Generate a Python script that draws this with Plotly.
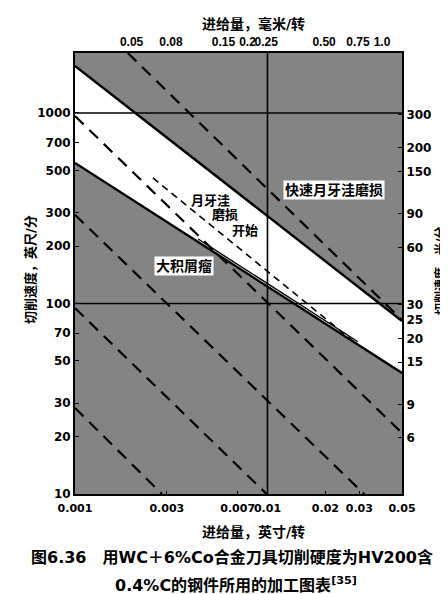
import math
import plotly.graph_objects as go

# ---------------- data ----------------
# bottom axis: feed, in/rev ; left axis: cutting speed, ft/min
x_ticks_in = [0.001, 0.003, 0.007, 0.01, 0.02, 0.03, 0.05]
x_ticklabels_in = ["0.001", "0.003", "0.007", "0.01", "0.02", "0.03", "0.05"]
x_ticks_mm = [0.05, 0.08, 0.15, 0.2, 0.25, 0.5, 0.75, 1.0]
x_ticklabels_mm = ["0.05", "0.08", "0.15", "0.2", "0.25", "0.50", "0.75", "1.0"]
y_ticks_fpm = [10, 20, 30, 50, 70, 100, 200, 300, 500, 700, 1000]
y_ticks_mpm = [3, 6, 9, 15, 20, 25, 30, 60, 90, 150, 200, 300]

feed_min, feed_max = 0.001, 0.05
speed_min, speed_max = 10, 2065

# boundaries of the safe (white) working band
upper_bound_feed = [0.001, 0.05]
upper_bound_speed = [1767, 80.9]
lower_bound_feed = [0.001, 0.05]
lower_bound_speed = [547, 43.2]
# thin companion line along the lower boundary
edge_line_feed = [0.00436, 0.0295]
edge_line_speed = [218, 63.0]
# "crater wear start" short-dash line
crater_feed = [0.00254, 0.0295]
crater_speed = [456, 60.5]

# constant-removal-rate dashed lines (feed, speed pairs)
rate_lines = {
    "L1": ([0.00188, 0.05], [2065, 82]),
    "L2": ([0.001, 0.05], [964, 20.9]),
    "L3": ([0.001, 0.0318], [292, 10]),
    "L4": ([0.001, 0.0099], [94.6, 10]),
    "L5": ([0.001, 0.00283], [28.3, 10]),
}

# ----------------------------------------------------------------
GRAY = "#848484"
fig = go.Figure()

# upper shaded region
fig.add_trace(go.Scatter(
    x=[upper_bound_feed[0], upper_bound_feed[1], feed_max, feed_min],
    y=[upper_bound_speed[0], upper_bound_speed[1], speed_max * 1.2, speed_max * 1.2],
    fill="toself", fillcolor=GRAY, line=dict(width=0), mode="lines",
    hoverinfo="skip", showlegend=False))
# lower shaded region
fig.add_trace(go.Scatter(
    x=[lower_bound_feed[0], lower_bound_feed[1], feed_max, feed_min],
    y=[lower_bound_speed[0], lower_bound_speed[1], speed_min * 0.8, speed_min * 0.8],
    fill="toself", fillcolor=GRAY, line=dict(width=0), mode="lines",
    hoverinfo="skip", showlegend=False))

# reference grid lines (1000, 100 ft/min, 0.01 in/rev)
for yv in [1000, 100]:
    fig.add_trace(go.Scatter(x=[feed_min, feed_max], y=[yv, yv], mode="lines",
                             line=dict(color="black", width=1.6),
                             hoverinfo="skip", showlegend=False))
fig.add_trace(go.Scatter(x=[0.01, 0.01], y=[speed_min, speed_max], mode="lines",
                         line=dict(color="black", width=1.6),
                         hoverinfo="skip", showlegend=False))

# dashed rate lines
for name, (fx, vy) in rate_lines.items():
    fig.add_trace(go.Scatter(x=fx, y=vy, mode="lines",
                             line=dict(color="black", width=2.2, dash="12px,8px"),
                             hoverinfo="skip", showlegend=False))

# crater-start short dashes
fig.add_trace(go.Scatter(x=crater_feed, y=crater_speed, mode="lines",
                         line=dict(color="black", width=1.6, dash="7px,5px"),
                         hoverinfo="skip", showlegend=False))

# band boundaries
fig.add_trace(go.Scatter(x=upper_bound_feed, y=upper_bound_speed, mode="lines",
                         line=dict(color="black", width=2.4),
                         hoverinfo="skip", showlegend=False))
fig.add_trace(go.Scatter(x=lower_bound_feed, y=lower_bound_speed, mode="lines",
                         line=dict(color="black", width=2.4),
                         hoverinfo="skip", showlegend=False))
fig.add_trace(go.Scatter(x=edge_line_feed, y=edge_line_speed, mode="lines",
                         line=dict(color="black", width=1.4),
                         hoverinfo="skip", showlegend=False))

# dummy trace to activate the secondary (metric) axes
fig.add_trace(go.Scatter(x=[0.1], y=[30], xaxis="x2", yaxis="y2", mode="markers",
                         marker=dict(opacity=0), hoverinfo="skip", showlegend=False))

YTICKFONT = dict(family="DejaVu Sans", size=12, color="black", weight="bold")
XTICKFONT = dict(family="DejaVu Sans", size=11, color="black", weight="bold")
TOPTICKFONT = dict(family="Liberation Sans", size=12, color="black", weight="bold")
CJK = "DejaVu Sans, Noto Sans CJK SC"

fig.update_layout(
    width=448, height=594,
    margin=dict(l=67, r=54, t=45, b=108),
    paper_bgcolor="white", plot_bgcolor="white",
    xaxis=dict(type="log", range=[math.log10(feed_min), math.log10(feed_max)],
               tickvals=x_ticks_in, ticktext=x_ticklabels_in, tickfont=XTICKFONT,
               tickangle=0, showgrid=False, zeroline=False, showline=True,
               linecolor="black", linewidth=2, ticks="inside", ticklen=3,
               tickcolor="black", mirror=False, anchor="y", ticklabelstandoff=3),
    yaxis=dict(type="log", range=[math.log10(speed_min), math.log10(speed_max)],
               tickvals=y_ticks_fpm, ticktext=[str(v) for v in y_ticks_fpm],
               tickfont=YTICKFONT, tickangle=0, showgrid=False, zeroline=False,
               showline=True, linecolor="black", linewidth=2, ticks="inside",
               ticklen=4, tickcolor="black", anchor="x"),
    xaxis2=dict(type="log", overlaying="x", side="top", anchor="y",
                range=[math.log10(feed_min * 25.4), math.log10(feed_max * 25.4)],
                tickvals=x_ticks_mm, ticktext=x_ticklabels_mm, tickfont=TOPTICKFONT,
                tickangle=0, showgrid=False, zeroline=False, showline=True,
                linecolor="black", linewidth=2, ticks=""),
    yaxis2=dict(type="log", overlaying="y", side="right", anchor="x",
                range=[math.log10(speed_min * 0.3048), math.log10(speed_max * 0.3048)],
                tickvals=y_ticks_mpm, ticktext=[str(v) for v in y_ticks_mpm],
                tickfont=YTICKFONT, tickangle=0, showgrid=False, zeroline=False,
                showline=True, linecolor="black", linewidth=2, ticks="inside",
                ticklen=4, tickcolor="black"),
)

fixed = []
def add_px(text, px, py, size, angle=0, weight="bold", bg=None):
    d = dict(text=text, xref="paper", yref="paper",
             x=(px - 67) / 327.0, y=(486 - py) / 441.0,
             showarrow=False, textangle=angle,
             font=dict(family=CJK, size=size, color="black", weight=weight),
             xanchor="center", yanchor="middle")
    if bg:
        d["bgcolor"] = bg
        d["borderpad"] = 1
    fixed.append(d)

# axis titles
add_px("进给量，毫米/转", 245, 16, 14)
add_px("进给量，英寸/转", 245, 524, 14)
add_px("切削速度，英尺/分", 22, 262, 13, angle=-90)
add_px("切削速度，米/分", 432, 263, 12, angle=-90)

# in-chart labels
add_px("月牙洼", 202, 192, 13)
add_px("磨损", 217, 207, 13)
add_px("开始", 237, 222, 13)
add_px("快速月牙洼磨损", 326, 182, 14, bg="white")
add_px("大积屑瘤", 176, 258, 14, bg="white")

# caption
add_px("图6.36　用WC＋6%Co合金刀具切削硬度为HV200含", 224, 549, 16)
add_px("0.4%C的钢件所用的加工图表<sup>[35]</sup>", 228, 576, 16)

fig.update_layout(annotations=fixed)

fig.write_html("out.html")
